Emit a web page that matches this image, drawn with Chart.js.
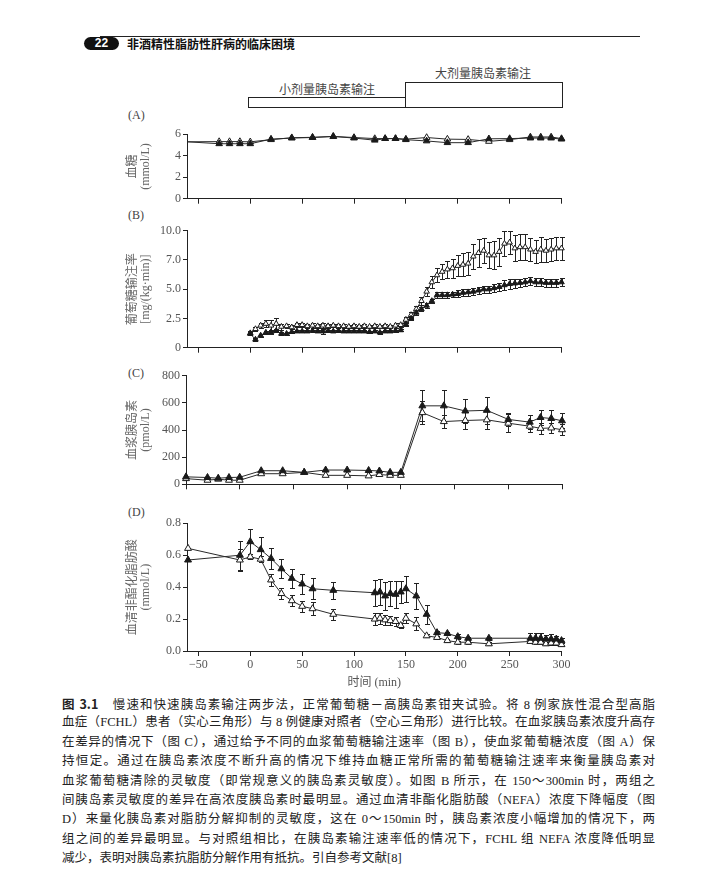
<!DOCTYPE html>
<html lang="zh">
<head>
<meta charset="utf-8">
<title>图 3.1 胰岛素钳夹试验</title>
<script src="https://cdn.jsdelivr.net/npm/chart.js@4.4.0/dist/chart.umd.min.js"></script>
<style>
  html, body { margin: 0; padding: 0; background: #fff; }
  body { width: 717px; height: 879px; position: relative; overflow: hidden;
         font-family: 'Liberation Serif', 'Noto Sans CJK SC', serif; color: #333; }
  canvas { position: absolute; left: 0; }
  .abs { position: absolute; white-space: nowrap; }
  .rule { left: 100px; top: 36px; width: 540px; height: 1px; background: #222; }
  .badge { left: 84px; top: 37px; width: 35px; height: 13px; background: #111; color: #fff;
           border-radius: 7px; font: bold 12px 'Liberation Sans', sans-serif; text-align: center; line-height: 13px; }
  .head { left: 127px; top: 36px; font: bold 12px 'Noto Sans CJK SC', sans-serif; line-height: 16px; color: #111; }
  .box { border: 1px solid #222; box-sizing: border-box; }
  .boxlab { font: 12px 'Noto Sans CJK SC', sans-serif; color: #444; transform: translateX(-50%); line-height: 14px; }
  .plab { font: 12px 'Liberation Serif', serif; color: #444; }
  .cap { left: 62px; width: 593px; font-size: 12.5px; line-height: 19.4px; color: #222;
         text-align: justify; text-align-last: justify; white-space: nowrap; }
  .cap.last { text-align-last: left; }
  .cap b { font-family: 'Noto Sans CJK SC', sans-serif; font-weight: 700; }
</style>
</head>
<body>
<div class="abs rule"></div>
<div class="abs badge">22</div>
<div class="abs head">非酒精性脂肪性肝病的临床困境</div>

<div class="abs boxlab" style="left:327px; top:82px;">小剂量胰岛素输注</div>
<div class="abs boxlab" style="left:483px; top:66px;">大剂量胰岛素输注</div>
<div class="abs box" style="left:248px; top:97px; width:158px; height:11px;"></div>
<div class="abs box" style="left:405px; top:82px; width:158px; height:26px;"></div>

<div class="abs plab" style="left:128px; top:108px;">(A)</div>
<div class="abs plab" style="left:128px; top:208px;">(B)</div>
<div class="abs plab" style="left:128px; top:366px;">(C)</div>
<div class="abs plab" style="left:128px; top:505px;">(D)</div>

<canvas id="chartA" width="717" height="100" style="top:110px"></canvas>
<canvas id="chartB" width="717" height="145" style="top:215px"></canvas>
<canvas id="chartC" width="717" height="135" style="top:360px"></canvas>
<canvas id="chartD" width="717" height="190" style="top:500px"></canvas>

<div class="abs cap" style="top:694px"><b>图 3.1</b>　慢速和快速胰岛素输注两步法，正常葡萄糖－高胰岛素钳夹试验。将 8 例家族性混合型高脂</div>
<div class="abs cap" style="top:713.4px">血症（FCHL）患者（实心三角形）与 8 例健康对照者（空心三角形）进行比较。在血浆胰岛素浓度升高存</div>
<div class="abs cap" style="top:732.8px">在差异的情况下（图 C），通过给予不同的血浆葡萄糖输注速率（图 B），使血浆葡萄糖浓度（图 A）保</div>
<div class="abs cap" style="top:752.2px">持恒定。通过在胰岛素浓度不断升高的情况下维持血糖正常所需的葡萄糖输注速率来衡量胰岛素对</div>
<div class="abs cap" style="top:771.6px">血浆葡萄糖清除的灵敏度（即常规意义的胰岛素灵敏度）。如图 B 所示，在 150～300min 时，两组之</div>
<div class="abs cap" style="top:791px">间胰岛素灵敏度的差异在高浓度胰岛素时最明显。通过血清非酯化脂肪酸（NEFA）浓度下降幅度（图</div>
<div class="abs cap" style="top:810.4px">D）来量化胰岛素对脂肪分解抑制的灵敏度，这在 0～150min 时，胰岛素浓度小幅增加的情况下，两</div>
<div class="abs cap" style="top:829.8px">组之间的差异最明显。与对照组相比，在胰岛素输注速率低的情况下，FCHL 组 NEFA 浓度降低明显</div>
<div class="abs cap last" style="top:849.2px">减少，表明对胰岛素抗脂肪分解作用有抵抗。引自参考文献[8]</div>

<script>
// x 轴刻度 (min)
const xTicks = [-50, 0, 50, 100, 150, 200, 250, 300];
const xTickLabels = ['−50', '0', '50', '100', '150', '200', '250', '300'];

// (A) 血糖 mmol/L
const aTimes = [-60, -30, -20, -10, 0, 20, 40, 60, 80, 100, 120, 130, 140, 150, 170, 190, 210, 230, 250, 270, 280, 290, 300];
const aFchl = [5.3, 5.12, 5.12, 5.12, 5.12, 5.55, 5.65, 5.7, 5.8, 5.65, 5.45, 5.6, 5.6, 5.5, 5.38, 5.22, 5.22, 5.58, 5.6, 5.65, 5.65, 5.65, 5.55];
const aCtrl = [5.3, 5.32, 5.32, 5.32, 5.3, 5.5, 5.68, 5.72, 5.8, 5.7, 5.6, 5.6, 5.6, 5.55, 5.7, 5.55, 5.52, 5.34, 5.5, 5.75, 5.75, 5.75, 5.6];
const aTickVals = [0, 1, 2, 3, 4, 5, 6];
const aTickLabels = ['0', '1', '2', '3', '4', '5', '6'];

// (B) 葡萄糖输注率 mg/(kg·min)
const bTimes = [0, 5, 10, 15, 20, 25, 30, 35, 40, 45, 50, 55, 60, 65, 70, 75, 80, 85, 90, 95,
  100, 105, 110, 115, 120, 125, 130, 135, 140, 145, 150, 155, 160, 165, 170, 175, 180, 185, 190, 195,
  200, 205, 210, 215, 220, 225, 230, 235, 240, 245, 250, 255, 260, 265, 270, 275, 280, 285, 290, 295, 300];
const bCtrl = [1.25, 1.6, 1.9, 2.05, 1.9, 2.05, 1.8, 1.85, 1.75, 1.95,
  1.95, 1.85, 1.9, 1.85, 1.9, 1.85, 1.9, 1.85, 1.85, 1.8,
  1.85, 1.8, 1.85, 1.8, 1.85, 1.8, 1.85, 1.8, 1.9, 1.95,
  2.4, 2.8, 3.3, 4.0, 4.8, 5.6, 6.2, 6.5, 6.7, 6.8,
  7.0, 7.1, 7.2, 7.8, 8.1, 8.3, 7.9, 7.9, 8.2, 8.9,
  9.0, 8.5, 8.6, 8.6, 8.4, 8.2, 8.4, 8.3, 8.4, 8.5, 8.5];
const bCtrlErr = [0.15, 0.2, 0.25, 0.3, 0.45, 0.5, 0.25, 0.2, 0.15, 0.2,
  0.2, 0.15, 0.2, 0.15, 0.2, 0.15, 0.15, 0.15, 0.15, 0.15,
  0.15, 0.15, 0.15, 0.15, 0.15, 0.15, 0.15, 0.15, 0.2, 0.2,
  0.2, 0.25, 0.3, 0.35, 0.4, 0.5, 0.6, 0.65, 0.7, 0.8,
  0.9, 1.0, 1.0, 1.1, 1.2, 1.1, 1.1, 1.2, 1.2, 1.1,
  1.0, 1.1, 1.1, 1.1, 1.0, 1.0, 1.1, 1.0, 1.0, 1.0, 1.0];
const bFchl = [1.2, 0.7, 1.05, 1.3, 1.35, 1.45, 1.2, 1.2, 1.35, 1.4,
  1.4, 1.4, 1.45, 1.4, 1.4, 1.45, 1.4, 1.45, 1.4, 1.4,
  1.4, 1.4, 1.4, 1.35, 1.4, 1.3, 1.4, 1.4, 1.45, 1.5,
  2.0, 2.5, 3.0, 3.3, 3.6, 4.0, 4.5, 4.5, 4.5, 4.55,
  4.6, 4.7, 4.75, 4.8, 4.9, 5.0, 5.0, 5.1, 5.2, 5.35,
  5.45, 5.5, 5.55, 5.6, 5.7, 5.6, 5.6, 5.55, 5.55, 5.55, 5.6];
const bFchlErr = [0.1, 0.1, 0.1, 0.15, 0.15, 0.15, 0.1, 0.1, 0.1, 0.1,
  0.1, 0.1, 0.1, 0.1, 0.2, 0.1, 0.1, 0.1, 0.1, 0.1,
  0.1, 0.1, 0.1, 0.1, 0.1, 0.1, 0.1, 0.1, 0.1, 0.1,
  0.15, 0.15, 0.2, 0.2, 0.2, 0.2, 0.25, 0.25, 0.25, 0.25,
  0.3, 0.3, 0.3, 0.3, 0.3, 0.3, 0.3, 0.35, 0.35, 0.4,
  0.45, 0.4, 0.35, 0.35, 0.35, 0.35, 0.35, 0.35, 0.35, 0.35, 0.35];
const bTickVals = [0, 2.5, 5, 7.5, 10];
const bTickLabels = ['0', '2.5', '5.0', '7.0', '10.0'];

// (C) 血浆胰岛素 pmol/L
const cTimes = [-50, -30, -20, -10, 0, 20, 40, 60, 80, 100, 120, 130, 140, 150, 170, 190, 210, 230, 250, 270, 280, 290, 300];
const cFchl = [55, 50, 45, 50, 52, 100, 100, 88, 105, 105, 102, 98, 88, 88, 578, 578, 540, 545, 478, 458, 492, 485, 468];
const cFchlErr = [0, 0, 0, 0, 0, 0, 0, 0, 0, 0, 0, 0, 0, 0, 115, 115, 90, 100, 45, 50, 55, 60, 55];
const cCtrl = [42, 30, 38, 30, 30, 78, 78, 88, 66, 66, 62, 72, 66, 66, 528, 462, 470, 475, 450, 428, 412, 415, 402];
const cCtrlErr = [0, 0, 0, 0, 0, 0, 0, 0, 0, 0, 0, 0, 0, 0, 85, 50, 60, 65, 65, 45, 40, 40, 40];
const cTickVals = [0, 200, 400, 600, 800];
const cTickLabels = ['0', '200', '400', '600', '800'];

// (D) 血清非酯化脂肪酸 mmol/L
const dTimes = [-60, -10, 0, 10, 20, 30, 40, 50, 60, 80, 120, 125, 130, 135, 140, 145, 150, 160, 170, 180, 190, 200, 210, 230, 270, 275, 280, 285, 290, 295, 300];
const dFchl = [0.57, 0.6, 0.685, 0.635, 0.58, 0.515, 0.455, 0.42, 0.39, 0.38, 0.365, 0.37, 0.345, 0.36, 0.355, 0.37, 0.39, 0.345, 0.23, 0.115, 0.11, 0.09, 0.08, 0.08, 0.08, 0.08, 0.08, 0.075, 0.075, 0.075, 0.065];
const dFchlErr = [0, 0.09, 0.08, 0.08, 0.065, 0.06, 0.06, 0.06, 0.065, 0.055, 0.08, 0.08, 0.09, 0.08, 0.085, 0.07, 0.08, 0.08, 0.06, 0.01, 0.01, 0.015, 0.01, 0.01, 0.03, 0.035, 0.035, 0.025, 0.03, 0.02, 0.015];
const dCtrl = [0.643, 0.57, 0.59, 0.575, 0.445, 0.36, 0.315, 0.28, 0.265, 0.23, 0.2, 0.205, 0.195, 0.19, 0.185, 0.16, 0.205, 0.17, 0.095, 0.085, 0.065, 0.055, 0.055, 0.045, 0.06, 0.055, 0.055, 0.045, 0.05, 0.05, 0.04];
const dCtrlErr = [0, 0.07, 0.015, 0.02, 0.04, 0.035, 0.035, 0.035, 0.04, 0.035, 0.035, 0.035, 0.03, 0.03, 0.03, 0.015, 0.03, 0.04, 0.01, 0.01, 0.01, 0.01, 0.01, 0.01, 0.01, 0.01, 0.01, 0.01, 0.01, 0.01, 0.01];
const dTickVals = [0, 0.2, 0.4, 0.6, 0.8];
const dTickLabels = ['0.0', '0.2', '0.4', '0.6', '0.8'];

const INK = '#1a1a1a';
const TXT = '#555';
const serif = "'Liberation Serif', 'Noto Sans CJK SC', serif";

// 误差线 (画在点的下面)
const errorBars = {
  id: 'errorBars',
  beforeDatasetsDraw(chart) {
    const ctx = chart.ctx;
    const ys = chart.scales.y;
    chart.data.datasets.forEach((ds, i) => {
      if (!ds.errors) return;
      const meta = chart.getDatasetMeta(i);
      ctx.save();
      ctx.strokeStyle = '#222';
      ctx.lineWidth = 1;
      meta.data.forEach((pt, j) => {
        const e = ds.errors[j];
        if (!e) return;
        const v = ds.data[j].y;
        const x = Math.round(pt.x) + 0.5;
        const top = Math.round(ys.getPixelForValue(v + e)) + 0.5;
        const bot = Math.round(ys.getPixelForValue(v - e)) + 0.5;
        ctx.beginPath();
        ctx.moveTo(x, top); ctx.lineTo(x, bot);
        ctx.moveTo(x - 2.5, top); ctx.lineTo(x + 2.5, top);
        ctx.moveTo(x - 2.5, bot); ctx.lineTo(x + 2.5, bot);
        ctx.stroke();
      });
      ctx.restore();
    });
  }
};

function series(times, vals, errs, filled, r, hideFirst) {
  return {
    data: times.map((t, i) => ({ x: t, y: vals[i] })),
    errors: errs,
    borderColor: '#2a2a2a',
    borderWidth: 1,
    tension: 0,
    clip: false,
    pointStyle: 'triangle',
    pointRadius: c => (hideFirst && c.dataIndex === 0) ? 0 : r,
    pointBackgroundColor: filled ? INK : '#fff',
    pointBorderColor: INK,
    pointBorderWidth: 1
  };
}

// o.top / o.bottom: 绘图区在 canvas 内的上下边; o.left / o.right: 页面 x
function panel(id, o) {
  const canvas = document.getElementById(id);
  const H = canvas.height;
  const axisGrid = len => ({ display: true, drawOnChartArea: false, drawTicks: true, tickLength: len, color: '#222', lineWidth: 1 });
  return new Chart(canvas, {
    type: 'line',
    data: { datasets: o.datasets },
    options: {
      responsive: false,
      animation: false,
      events: [],
      layout: { autoPadding: false, padding: { left: 0, top: o.top, right: 717 - o.right, bottom: 0 } },
      plugins: { legend: { display: false }, tooltip: { enabled: false } },
      scales: {
        x: {
          type: 'linear', min: o.xMin, max: 300,
          afterBuildTicks: s => { s.ticks = xTicks.map(v => ({ value: v })); },
          afterFit: s => { s.height = H - o.bottom; },
          grid: axisGrid(5),
          border: { display: true, color: '#222', width: 1 },
          ticks: {
            display: !!o.xTitle, autoSkip: false, maxRotation: 0, padding: 2,
            color: TXT, font: { family: serif, size: 12 },
            callback: (v, i) => xTickLabels[i]
          },
          title: o.xTitle ? {
            display: true, text: o.xTitle, color: TXT,
            font: { family: serif, size: 12, lineHeight: '14px' }, padding: { top: 0, bottom: 0 }
          } : { display: false }
        },
        y: {
          type: 'linear', min: o.yVals[0], max: o.yVals[o.yVals.length - 1],
          afterBuildTicks: s => { s.ticks = o.yVals.map(v => ({ value: v })); },
          afterFit: s => { s.width = o.left; },
          grid: axisGrid(4),
          border: { display: true, color: '#222', width: 1 },
          ticks: {
            padding: 2, color: TXT, font: { family: serif, size: 12 },
            callback: (v, i) => o.yLabels[i]
          },
          title: {
            display: true, text: o.yTitle, color: '#666',
            font: { family: serif, size: 12, lineHeight: '13.5px' },
            padding: { top: 125.75, bottom: 0 }
          }
        }
      }
    },
    plugins: [errorBars]
  });
}

panel('chartA', {
  top: 24.3, bottom: 88.7, left: 187, right: 561.5, xMin: -61,
  yVals: aTickVals, yLabels: aTickLabels, yTitle: ['血糖', '(mmol/L)'],
  datasets: [series(aTimes, aFchl, null, true, 3.8, true), series(aTimes, aCtrl, null, false, 3.8, true)]
});

panel('chartB', {
  top: 15.7, bottom: 132.7, left: 187, right: 561.5, xMin: -61,
  yVals: bTickVals, yLabels: bTickLabels, yTitle: ['葡萄糖输注率', '[mg/(kg·min)]'],
  datasets: [series(bTimes, bFchl, bFchlErr, true, 3.2), series(bTimes, bCtrl, bCtrlErr, false, 3.2)]
});

panel('chartC', {
  top: 15.7, bottom: 124.3, left: 186, right: 562, xMin: -50,
  yVals: cTickVals, yLabels: cTickLabels, yTitle: ['血浆胰岛素', '(pmol/L)'],
  datasets: [series(cTimes, cFchl, cFchlErr, true, 4), series(cTimes, cCtrl, cCtrlErr, false, 4)]
});

panel('chartD', {
  top: 23.3, bottom: 151, left: 187, right: 561.5, xMin: -61,
  yVals: dTickVals, yLabels: dTickLabels, yTitle: ['血清非酯化脂肪酸', '(mmol/L)'],
  xTitle: '时间 (min)',
  datasets: [series(dTimes, dFchl, dFchlErr, true, 4), series(dTimes, dCtrl, dCtrlErr, false, 4)]
});
</script>
</body>
</html>
